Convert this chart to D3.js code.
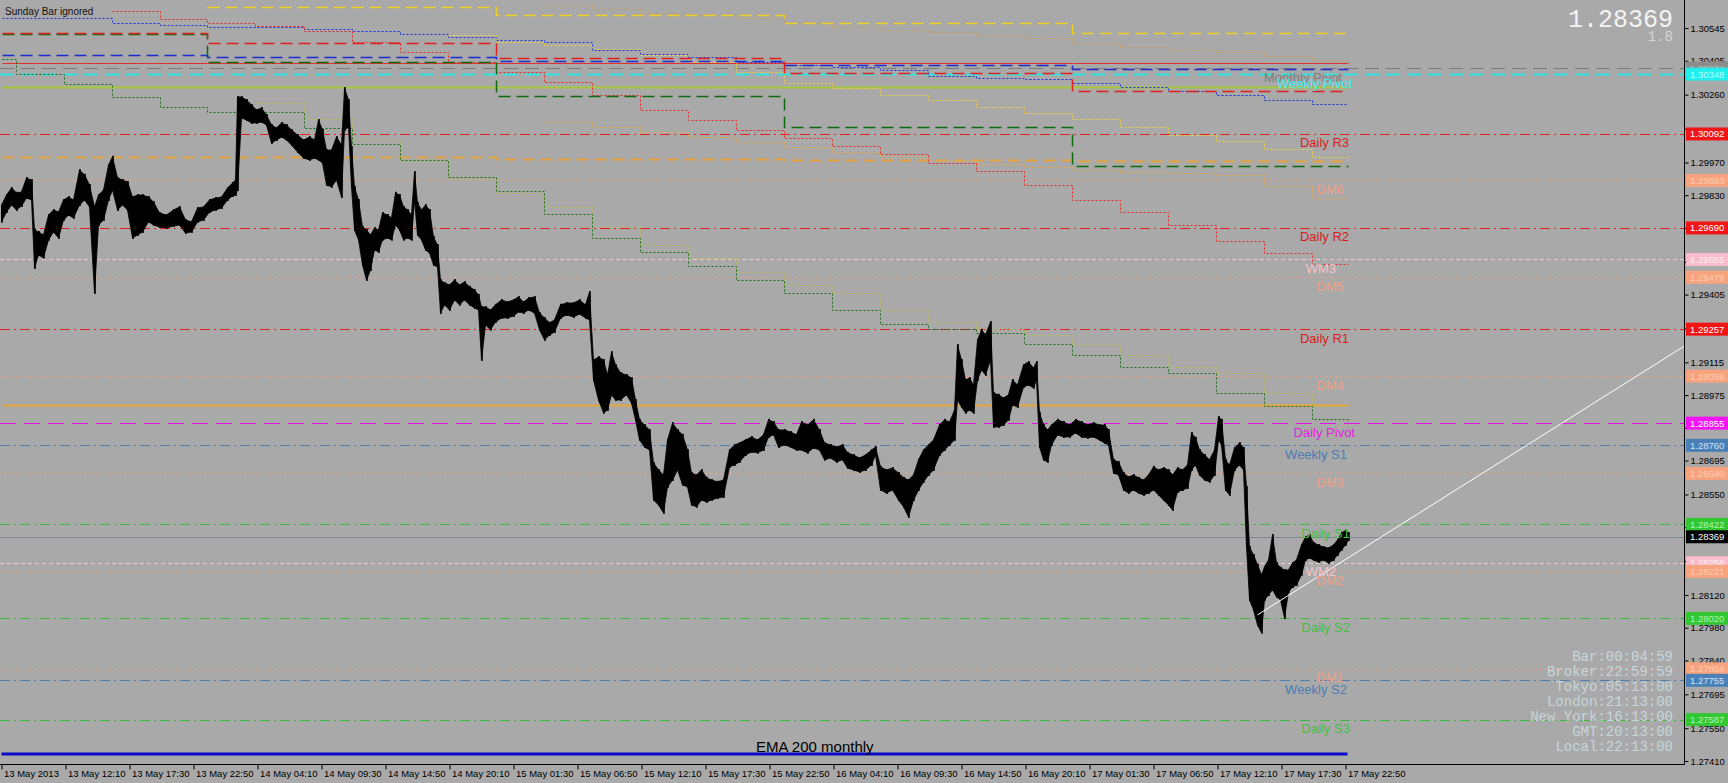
<!DOCTYPE html>
<html><head><meta charset="utf-8">
<script src="https://cdn.jsdelivr.net/npm/d3@7"></script>
<style>
html,body{margin:0;padding:0;background:#a9a9a9;overflow:hidden}
svg{display:block}
</style></head><body>
<svg id="c" width="1728" height="783"></svg>
<script>
// ---------------- DATA ----------------
// x axis: M5 bars counted from 13 May 2013 06:50
const xTickBars = [0,64,128,192,256,320,384,448,512,576,640,704,768,832,896,960,1024,1088,1152,1216,1280,1344];
const xTickLabels = ["13 May 2013","13 May 12:10","13 May 17:30","13 May 22:50","14 May 04:10","14 May 09:30","14 May 14:50","14 May 20:10","15 May 01:30","15 May 06:50","15 May 12:10","15 May 17:30","15 May 22:50","16 May 04:10","16 May 09:30","16 May 14:50","16 May 20:10","17 May 01:30","17 May 06:50","17 May 12:10","17 May 17:30","17 May 22:50"];
const yTicks = [1.30545,1.30405,1.30260,1.30115,1.29970,1.29830,1.29690,1.29545,1.29405,1.29260,1.29115,1.28975,1.28835,1.28695,1.28550,1.28410,1.28265,1.28120,1.27980,1.27840,1.27695,1.27550,1.27410];

// price samples (bar index, high, low)
const priceBars = [0,5,10,15,20,25,30,33,37,42,47,52,57,62,67,72,78,83,88,93,97,102,107,111,116,121,126,131,136,141,147,152,158,165,172,178,184,190,196,202,208,214,220,226,231,234,236,240,245,250,255,260,265,270,275,280,285,290,296,302,308,313,317,321,325,330,335,340,343,347,350,353,357,361,365,369,373,377,381,386,390,394,398,402,406,410,413,416,420,424,428,432,436,439,443,448,453,458,463,468,473,477,480,484,489,494,500,506,512,517,522,527,533,538,543,548,553,559,565,572,578,584,588,592,597,602,606,610,614,619,625,630,634,638,643,648,652,657,662,666,671,676,681,686,690,695,700,705,710,716,722,728,733,738,744,750,756,762,767,772,777,783,789,795,800,806,812,818,823,829,835,841,846,852,858,864,870,874,879,885,891,897,902,907,912,917,922,927,932,938,943,948,953,956,960,964,968,972,976,980,984,989,992,997,1002,1007,1011,1016,1022,1027,1032,1035,1038,1042,1046,1050,1056,1062,1068,1074,1080,1086,1092,1098,1103,1107,1112,1117,1122,1127,1132,1137,1142,1147,1152,1157,1162,1167,1171,1176,1181,1186,1190,1194,1198,1203,1208,1213,1217,1220,1224,1228,1233,1238,1242,1245,1248,1252,1256,1260,1263,1267,1271,1275,1279,1283,1287,1291,1295,1300,1304,1308,1312,1317,1322,1327,1332,1336,1340,1344,1347];
const priceHigh = [1.29788,1.29831,1.29861,1.29840,1.29844,1.29904,1.29895,1.29681,1.29673,1.29660,1.29745,1.29767,1.29758,1.29810,1.29822,1.29810,1.29938,1.29917,1.29874,1.29780,1.29831,1.29852,1.29959,1.29994,1.29904,1.29895,1.29887,1.29822,1.29831,1.29831,1.29822,1.29801,1.29754,1.29745,1.29767,1.29780,1.29724,1.29716,1.29775,1.29780,1.29810,1.29818,1.29822,1.29861,1.29882,1.29895,1.30250,1.30250,1.30237,1.30216,1.30195,1.30203,1.30173,1.30130,1.30118,1.30139,1.30130,1.30109,1.30088,1.30066,1.30079,1.30066,1.30152,1.30109,1.30023,1.30023,1.30079,1.30045,1.30289,1.30237,1.30036,1.29865,1.29810,1.29694,1.29681,1.29660,1.29690,1.29681,1.29754,1.29745,1.29733,1.29840,1.29831,1.29780,1.29767,1.29745,1.29929,1.29797,1.29767,1.29788,1.29767,1.29651,1.29617,1.29467,1.29455,1.29446,1.29467,1.29446,1.29459,1.29438,1.29425,1.29403,1.29352,1.29352,1.29339,1.29361,1.29382,1.29373,1.29382,1.29395,1.29373,1.29390,1.29395,1.29326,1.29305,1.29284,1.29296,1.29361,1.29369,1.29369,1.29382,1.29361,1.29416,1.29125,1.29138,1.29125,1.29061,1.29159,1.29104,1.29070,1.29061,1.29048,1.28954,1.28869,1.28847,1.28826,1.28685,1.28655,1.28633,1.28783,1.28856,1.28826,1.28805,1.28740,1.28642,1.28633,1.28655,1.28621,1.28612,1.28604,1.28612,1.28740,1.28762,1.28770,1.28783,1.28796,1.28783,1.28805,1.28869,1.28860,1.28826,1.28826,1.28817,1.28805,1.28860,1.28847,1.28869,1.28826,1.28770,1.28762,1.28753,1.28762,1.28728,1.28719,1.28706,1.28719,1.28740,1.28753,1.28668,1.28655,1.28663,1.28642,1.28621,1.28612,1.28633,1.28698,1.28740,1.28762,1.28783,1.28847,1.28869,1.28860,1.28911,1.29189,1.29125,1.29040,1.29048,1.29018,1.29211,1.29254,1.29232,1.29288,1.28984,1.28976,1.28963,1.28976,1.29040,1.29018,1.29104,1.29117,1.29091,1.29117,1.28899,1.28847,1.28826,1.28847,1.28869,1.28860,1.28847,1.28869,1.28860,1.28847,1.28856,1.28847,1.28847,1.28826,1.28698,1.28689,1.28642,1.28625,1.28633,1.28621,1.28612,1.28633,1.28668,1.28655,1.28663,1.28655,1.28633,1.28663,1.28655,1.28676,1.28813,1.28792,1.28740,1.28719,1.28698,1.28740,1.28881,1.28869,1.28698,1.28676,1.28749,1.28770,1.28749,1.28582,1.28325,1.28291,1.28249,1.28206,1.28240,1.28270,1.28377,1.28257,1.28236,1.28227,1.28227,1.28257,1.28270,1.28334,1.28368,1.28377,1.28343,1.28334,1.28325,1.28321,1.28334,1.28355,1.28385,1.28398,1.28385];
const priceLow = [1.29716,1.29758,1.29788,1.29767,1.29784,1.29818,1.29810,1.29519,1.29574,1.29562,1.29639,1.29673,1.29647,1.29724,1.29745,1.29733,1.29788,1.29810,1.29780,1.29412,1.29703,1.29724,1.29810,1.29852,1.29767,1.29788,1.29767,1.29647,1.29660,1.29673,1.29716,1.29703,1.29694,1.29690,1.29698,1.29703,1.29668,1.29673,1.29716,1.29724,1.29758,1.29767,1.29775,1.29810,1.29827,1.29831,1.29852,1.30160,1.30152,1.30139,1.30139,1.30143,1.30130,1.30053,1.30066,1.30079,1.30066,1.30045,1.30015,1.29989,1.29981,1.29989,1.29981,1.29968,1.29874,1.29865,1.29895,1.29822,1.30109,1.30122,1.29865,1.29681,1.29639,1.29532,1.29467,1.29510,1.29596,1.29587,1.29639,1.29647,1.29639,1.29703,1.29681,1.29639,1.29647,1.29639,1.29810,1.29660,1.29639,1.29596,1.29583,1.29532,1.29523,1.29326,1.29361,1.29339,1.29382,1.29361,1.29382,1.29361,1.29348,1.29339,1.29125,1.29275,1.29254,1.29288,1.29305,1.29305,1.29313,1.29331,1.29326,1.29339,1.29326,1.29254,1.29211,1.29232,1.29245,1.29305,1.29318,1.29309,1.29322,1.29305,1.29296,1.29040,1.28954,1.28899,1.28911,1.28976,1.28954,1.28954,1.28976,1.28941,1.28869,1.28783,1.28753,1.28740,1.28526,1.28505,1.28471,1.28582,1.28612,1.28655,1.28591,1.28582,1.28505,1.28497,1.28526,1.28518,1.28526,1.28535,1.28539,1.28668,1.28676,1.28689,1.28719,1.28732,1.28728,1.28740,1.28796,1.28805,1.28753,1.28762,1.28753,1.28740,1.28740,1.28728,1.28749,1.28740,1.28698,1.28706,1.28689,1.28698,1.28663,1.28655,1.28646,1.28655,1.28676,1.28719,1.28569,1.28556,1.28569,1.28526,1.28497,1.28454,1.28526,1.28569,1.28604,1.28633,1.28655,1.28719,1.28740,1.28762,1.28783,1.28954,1.28924,1.28899,1.28911,1.28899,1.29040,1.29083,1.29061,1.29125,1.28839,1.28839,1.28847,1.28869,1.28933,1.28924,1.29010,1.29018,1.29006,1.29040,1.28753,1.28698,1.28689,1.28762,1.28805,1.28796,1.28796,1.28813,1.28796,1.28792,1.28796,1.28783,1.28770,1.28762,1.28642,1.28633,1.28569,1.28556,1.28569,1.28556,1.28548,1.28556,1.28569,1.28548,1.28526,1.28505,1.28484,1.28561,1.28569,1.28578,1.28655,1.28676,1.28633,1.28612,1.28604,1.28633,1.28783,1.28762,1.28569,1.28548,1.28655,1.28676,1.28655,1.28325,1.28099,1.28056,1.27992,1.27958,1.28099,1.28120,1.28142,1.28112,1.28099,1.28022,1.28133,1.28154,1.28163,1.28206,1.28270,1.28278,1.28270,1.28261,1.28270,1.28257,1.28270,1.28291,1.28313,1.28334,1.28355];
const currentPrice = 1.28369;

// pivot levels (horizontal lines)
const levelNames = ["Monthly Pivot","Weekly Pivot","Daily R3","DM6","Daily R2","WM3","DM5","Daily R1","DM4","Daily Pivot","Weekly S1","DM3","Daily S1","WM2","DM2","Daily S2","DM1","Weekly S2","Daily S3"];
const levelValues = [1.30374,1.30348,1.30092,1.29893,1.29690,1.29555,1.29479,1.29257,1.29056,1.28855,1.28760,1.28640,1.28422,1.28258,1.28221,1.28020,1.27804,1.27755,1.27587];

// 4-hour stepped indicator histories (period start bars, values)
const h4Starts = [0,14,62,110,158,206,254,302,350,398,446,494,542,590,638,686,734,782,830,878,926,974,1022,1070,1118,1166,1214,1262,1310];
const stepDarkGreen = [1.30413,1.30348,1.30306,1.30250,1.30207,1.30186,1.30186,1.30118,1.30049,1.29981,1.29908,1.29848,1.29750,1.29647,1.29587,1.29527,1.29467,1.29412,1.29339,1.29279,1.29258,1.29241,1.29194,1.29147,1.29095,1.29070,1.28984,1.28929,1.28873];
const stepOlive = [null,null,null,null,null,null,1.30225,1.30156,1.30066,1.29981,1.29904,1.29840,1.29780,1.29694,1.29617,1.29562,1.29502,1.29446,1.29412,1.29339,1.29288,1.29258,1.29232,1.29194,1.29147,1.29095,1.29070,1.28984,1.28929];
const stepRed = [null,null,null,1.30618,1.30584,1.30567,1.30554,1.30532,1.30485,1.30443,1.30400,1.30357,1.30314,1.30259,1.30195,1.30152,1.30109,1.30075,1.30041,1.30006,1.29968,1.29934,1.29874,1.29810,1.29758,1.29703,1.29634,1.29583,1.29536];
const stepYellow = [null,null,null,null,null,null,null,null,null,null,1.30515,1.30485,1.30473,1.30455,1.30430,1.30400,1.30357,1.30310,1.30289,1.30259,1.30237,1.30207,1.30182,1.30156,1.30122,1.30088,1.30062,1.30028,1.29994];
const stepBlue = [1.30588,1.30588,1.30588,1.30567,1.30558,1.30550,1.30550,1.30541,1.30532,1.30520,1.30507,1.30494,1.30485,1.30451,1.30434,1.30421,1.30400,1.30387,1.30378,1.30366,1.30340,1.30331,1.30327,1.30310,1.30293,1.30276,1.30259,1.30237,1.30220];
const stepTan = [null,null,null,null,null,null,null,null,null,null,null,null,1.30644,1.30627,1.30609,1.30601,1.30588,1.30567,1.30550,1.30537,1.30528,1.30515,1.30502,1.30481,1.30464,1.30451,1.30443,1.30425,1.30408];
const stepOrange = [null,null,null,null,null,null,null,null,null,null,null,null,1.30143,1.30122,1.30100,1.30079,1.30058,1.30036,1.30015,1.29998,1.29981,1.29964,1.29951,1.29938,1.29929,1.29925,1.29917,1.29869,1.29818];

// daily stepped levels (day start bars, values)
const dayStarts = [0,206,494,782,1070];
const dayYellow = [null,1.30635,1.30601,1.30567,1.30524];
const dayRed = [1.30524,1.30481,1.30417,1.30353,1.30276];
const dayGreen = [1.30520,1.30400,1.30254,1.30122,1.29955];
const dayBlue = [1.30430,1.30421,1.30404,1.30387,1.30370];
const dayOrange = [1.29994,1.29994,1.29985,1.29981,1.29976];
const constRed = [1.30396,1.30396,1.30396,1.30396,1.30396];
const constYellowGreen = [1.30293,1.30293,1.30293,1.30293,1.30293];
const constOrange = [1.28933,1.28933,1.28933,1.28933,1.28933];

// EMA 200 monthly and trendline
const emaBars = [0,1346];
const emaValues = [1.27440,1.27440];
const trendBars = [1256,1683];
const trendValues = [1.28035,1.29185];

const infoLines = ["Bar:00:04:59","Broker:22:59:59","Tokyo:05:13:00","London:21:13:00","New York:16:13:00","GMT:20:13:00","Local:22:13:00"];

// ---------------- DRAW ----------------
const W = 1728, H = 783, plotR = 1684, plotB = 764;
const svg = d3.select("#c");
const x = d3.scaleLinear().domain([0, 1682.5]).range([1.5, plotR]);
const y = d3.scaleLinear().domain([1.27397, 1.30665]).range([plotB, 0]);

svg.append("rect").attr("width", W).attr("height", H).attr("fill", "#a9a9a9");
svg.append("defs").append("clipPath").attr("id", "clip")
  .append("rect").attr("x", 0).attr("y", 0).attr("width", plotR).attr("height", plotB);
const plot = svg.append("g").attr("clip-path", "url(#clip)");

const styles = {
  mp:{line:"#7b7b7b",dash:"14,7",w:1,text:"#7d7d7d",box:"#8c8c8c",boxText:"#bcbcbc",endX:1342},
  wp:{line:"#33e4e4",dash:"14,7",w:2,text:"#3ff0f0",box:"#22eeee",boxText:"#b8ffff",endX:1352},
  dr:{line:"#e81e1e",dash:"10,4,2,4",w:1,text:"#d81c1c",box:"#f01616",boxText:"#ffffff",endX:1349},
  dm:{line:"#f2a07c",dash:"2,3",w:1,text:"#f0a084",box:"#f7a37e",boxText:"#ffcdb6",endX:1344},
  wm:{line:"#f6c8d0",dash:"4,3",w:1,text:"#f7c3cb",box:"#f9bccb",boxText:"#fff0f4",endX:1336},
  dp:{line:"#e412e4",dash:"16,8",w:1,text:"#e01ee0",box:"#f514f5",boxText:"#ffffff",endX:1355},
  ws:{line:"#4f7faf",dash:"10,4,2,4",w:1,text:"#4a7db3",box:"#4a80b6",boxText:"#d0e4f8",endX:1347},
  ds:{line:"#3cba3c",dash:"10,4,2,4",w:1,text:"#45bf45",box:"#33c733",boxText:"#b0f5b0",endX:1350}
};
function kind(n){
  if(n==="Monthly Pivot") return "mp";
  if(n==="Weekly Pivot") return "wp";
  if(n==="Daily Pivot") return "dp";
  if(n.startsWith("Daily R")) return "dr";
  if(n.startsWith("Daily S")) return "ds";
  if(n.startsWith("Weekly S")) return "ws";
  if(n.startsWith("DM")) return "dm";
  return "wm";
}

// horizontal level lines
levelNames.forEach((n,i)=>{
  const s = styles[kind(n)];
  const yy = Math.round(y(levelValues[i])) + 0.5;
  plot.append("line").attr("x1",0).attr("x2",plotR).attr("y1",yy).attr("y2",yy)
    .attr("stroke",s.line).attr("stroke-width",s.w).attr("stroke-dasharray",s.dash);
});
{
  const yy = Math.round(y(currentPrice)) + 0.5;
  plot.append("line").attr("x1",0).attr("x2",plotR).attr("y1",yy).attr("y2",yy)
    .attr("stroke","#7d8893").attr("stroke-width",1);
}

// stepped lines
const endBar = 1346;
function stepLine(starts, vals, color, dash, w){
  const pts = [];
  starts.forEach((b,i)=>{ if(vals[i]!=null) pts.push([b, vals[i]]); });
  pts.push([endBar, pts[pts.length-1][1]]);
  const ln = d3.line().x(d=>Math.round(x(d[0]))+0.5).y(d=>Math.round(y(d[1]))+0.5).curve(d3.curveStepAfter);
  plot.append("path").attr("d", ln(pts)).attr("fill","none")
    .attr("stroke",color).attr("stroke-width",w).attr("stroke-dasharray",dash);
}
stepLine(dayStarts, constYellowGreen, "#a6c83a", null, 2);
stepLine(dayStarts, constRed, "#e03030", null, 1);
stepLine(dayStarts, constOrange, "#e6a63a", null, 2);
stepLine(dayStarts, dayOrange, "#e6a440", "12,6", 2);
stepLine(h4Starts, stepOlive, "#b8b85a", "2,2", 1);
stepLine(h4Starts, stepTan, "#c4a05c", "2,2", 1);
stepLine(h4Starts, stepOrange, "#e8a848", "2,2", 1);
stepLine(h4Starts, stepYellow, "#f0d040", "2,2", 1);
stepLine(h4Starts, stepBlue, "#1830d8", "2,2", 1);
stepLine(h4Starts, stepRed, "#e02828", "2,2", 1);
stepLine(h4Starts, stepDarkGreen, "#176c17", "2,2", 1);
stepLine(dayStarts, dayYellow, "#f0d020", "12,6", 1.5);
stepLine(dayStarts, dayBlue, "#1c2cd0", "12,6", 1.5);
stepLine(dayStarts, dayGreen, "#0f6a0f", "12,6", 1.5);
stepLine(dayStarts, dayRed, "#e02020", "12,6", 1.5);

// price: filled high/low band with bar spikes
const pdata = priceBars.map((b,i)=>({b, h:priceHigh[i], l:priceLow[i]}));
const area = d3.area().x(d=>x(d.b)).y0(d=>y(d.l)).y1(d=>y(d.h));
plot.append("path").attr("d", area(pdata)).attr("fill","#000").attr("stroke","#000").attr("stroke-width",0.8);
plot.selectAll("line.bar").data(pdata).join("line").attr("class","bar")
  .attr("x1",d=>x(d.b)+0.5).attr("x2",d=>x(d.b)+0.5).attr("y1",d=>y(d.h)-1).attr("y2",d=>y(d.l)+1)
  .attr("stroke","#000").attr("stroke-width",1.6);

// EMA
plot.append("path").attr("d", d3.line().x((d,i)=>x(emaBars[i])).y(d=>y(d))(emaValues))
  .attr("stroke","#0a0ac8").attr("stroke-width",3).attr("fill","none");
// trendline
plot.append("path").attr("d", d3.line().x((d,i)=>x(trendBars[i])).y(d=>y(d))(trendValues))
  .attr("stroke","#ffffff").attr("stroke-width",1).attr("fill","none");

// level labels
levelNames.forEach((n,i)=>{
  const s = styles[kind(n)];
  svg.append("text").attr("x", s.endX).attr("y", y(levelValues[i]) + 13.5)
    .attr("text-anchor","end").attr("fill", s.text)
    .attr("font-family","'Liberation Sans', Arial, sans-serif").attr("font-size", 13)
    .text(n);
});
svg.append("text").attr("x",756).attr("y",752).attr("fill","#000")
  .attr("font-family","'Liberation Sans', Arial, sans-serif").attr("font-size",15).text("EMA 200 monthly");

// axes frame
svg.append("line").attr("x1",plotR+0.5).attr("x2",plotR+0.5).attr("y1",0).attr("y2",plotB+0.5).attr("stroke","#000");
svg.append("line").attr("x1",0).attr("x2",plotR+0.5).attr("y1",plotB+0.5).attr("y2",plotB+0.5).attr("stroke","#000");

// y ticks: labels fully hidden under a price box are not drawn
const boxValues = levelValues.concat([currentPrice]);
const visibleTicks = yTicks.filter(t => !boxValues.some(v => Math.abs(y(v) - y(t)) < 6));
const ya = svg.append("g").attr("transform",`translate(${plotR+0.5},0)`)
  .call(d3.axisRight(y).tickValues(yTicks).tickFormat(d => visibleTicks.includes(d) ? d3.format(".5f")(d) : "").tickSize(4).tickPadding(2));
ya.select(".domain").remove();
ya.selectAll("line").attr("stroke","#000");
ya.selectAll("text").attr("font-family","'Liberation Sans', Arial, sans-serif").attr("font-size",9.5).attr("fill","#000");

const xa = svg.append("g").attr("transform",`translate(0,${plotB+0.5})`)
  .call(d3.axisBottom(x).tickValues(xTickBars).tickFormat((d,i)=>xTickLabels[i]).tickSize(5));
xa.select(".domain").remove();
xa.selectAll("line").attr("stroke","#000");
xa.selectAll("text").attr("text-anchor","start").attr("x",2).attr("y",6)
  .attr("font-family","'Liberation Sans', Arial, sans-serif").attr("font-size",9.5).attr("fill","#000");

// price boxes
function priceBox(v, fill, tcol){
  const cy = y(v);
  svg.append("rect").attr("x",plotR+2).attr("y",cy-6.5).attr("width",W-plotR-2).attr("height",13).attr("fill",fill);
  svg.append("text").attr("x",plotR+6).attr("y",cy+3.5).attr("fill",tcol)
    .attr("font-family","'Liberation Sans', Arial, sans-serif").attr("font-size",9.5).text(d3.format(".5f")(v));
}
levelNames.forEach((n,i)=>{ const s = styles[kind(n)]; priceBox(levelValues[i], s.box, s.boxText); });
priceBox(currentPrice, "#000", "#fff");

// info panel
infoLines.forEach((t,i)=>{
  svg.append("text").attr("x",1673).attr("y",661 + i*15).attr("text-anchor","end")
    .attr("fill","#c7d6dc").attr("font-family","'Liberation Mono', 'Courier New', monospace")
    .attr("font-size",14).text(t);
});
svg.append("text").attr("x",1673).attr("y",27).attr("text-anchor","end").attr("fill","#f4f4f4")
  .attr("font-family","'Liberation Mono', 'Courier New', monospace").attr("font-size",25).text(d3.format(".5f")(currentPrice));
svg.append("text").attr("x",1673).attr("y",41).attr("text-anchor","end").attr("fill","#d6d6d6")
  .attr("font-family","'Liberation Mono', 'Courier New', monospace").attr("font-size",14).text("1.8");
svg.append("text").attr("x",5).attr("y",15).attr("fill","#111")
  .attr("font-family","'Liberation Sans', Arial, sans-serif").attr("font-size",10).text("Sunday Bar ignored");
</script>
</body></html>
